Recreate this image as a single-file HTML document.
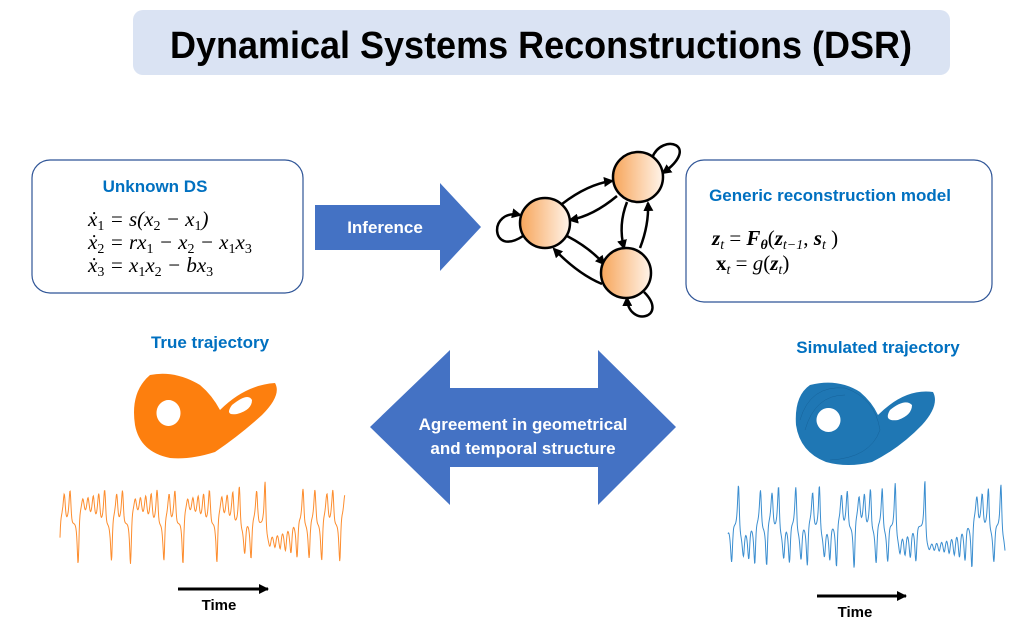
<!DOCTYPE html>
<html><head><meta charset="utf-8"><style>
body{margin:0;width:1024px;height:626px;background:#fff;overflow:hidden;font-family:"Liberation Sans",sans-serif}
svg{position:absolute;left:0;top:0}
</style></head><body>
<svg width="1024" height="626" viewBox="0 0 1024 626">
<defs>
<linearGradient id="og" x1="0" x2="1"><stop offset="0" stop-color="#f7a55a"/><stop offset="1" stop-color="#fff4ea"/></linearGradient>
<marker id="ah" markerWidth="10" markerHeight="10" refX="8" refY="5" orient="auto" markerUnits="userSpaceOnUse"><path d="M0,0 L10,5 L0,10 z" fill="#000"/></marker>
<marker id="ah2" markerWidth="10" markerHeight="10" refX="9" refY="5" orient="auto" markerUnits="userSpaceOnUse"><path d="M0,0 L10,5 L0,10 z" fill="#000"/></marker>
</defs>
<rect x="133" y="10" width="817" height="65" rx="10" fill="#dae3f3"/>
<text x="170" y="58" textLength="742" lengthAdjust="spacingAndGlyphs" font-size="38" font-weight="bold" fill="#000">Dynamical Systems Reconstructions (DSR)</text>

<rect x="32" y="160" width="271" height="133" rx="18" fill="#fff" stroke="#2f5597" stroke-width="1.2"/>
<text x="155" y="192" text-anchor="middle" font-size="17" font-weight="bold" fill="#0070c0">Unknown DS</text>
<g font-family="Liberation Serif,serif" font-size="21" font-style="italic">
<text x="88" y="226">ẋ<tspan font-size="14" dy="4" font-style="normal">1</tspan><tspan dy="-4"> = s(x</tspan><tspan font-size="14" dy="4" font-style="normal">2</tspan><tspan dy="-4"> − x</tspan><tspan font-size="14" dy="4" font-style="normal">1</tspan><tspan dy="-4">)</tspan></text>
<text x="88" y="249">ẋ<tspan font-size="14" dy="4" font-style="normal">2</tspan><tspan dy="-4"> = rx</tspan><tspan font-size="14" dy="4" font-style="normal">1</tspan><tspan dy="-4"> − x</tspan><tspan font-size="14" dy="4" font-style="normal">2</tspan><tspan dy="-4"> − x</tspan><tspan font-size="14" dy="4" font-style="normal">1</tspan><tspan dy="-4">x</tspan><tspan font-size="14" dy="4" font-style="normal">3</tspan></text>
<text x="88" y="272">ẋ<tspan font-size="14" dy="4" font-style="normal">3</tspan><tspan dy="-4"> = x</tspan><tspan font-size="14" dy="4" font-style="normal">1</tspan><tspan dy="-4">x</tspan><tspan font-size="14" dy="4" font-style="normal">2</tspan><tspan dy="-4"> − bx</tspan><tspan font-size="14" dy="4" font-style="normal">3</tspan></text>
</g>

<path d="M315,205 L440,205 L440,183 L481,227 L440,271 L440,250 L315,250 Z" fill="#4472c4"/>
<text x="385" y="233" text-anchor="middle" font-size="17" font-weight="bold" fill="#fff">Inference</text>

<g fill="none" stroke="#000" stroke-width="2.5">
<path d="M562,204 Q588,184 612,181" marker-end="url(#ah)"/>
<path d="M617,196 Q593,216 570,220" marker-end="url(#ah)"/>
<path d="M567,236 Q590,248 604,264" marker-end="url(#ah)"/>
<path d="M602,284 Q578,274 554,249" marker-end="url(#ah)"/>
<path d="M627,202 Q618,225 624,248" marker-end="url(#ah)"/>
<path d="M640,248 Q649,225 648,203" marker-end="url(#ah)"/>
<path d="M652,158 C662,132 702,145 663,173" marker-end="url(#ah)"/>
<path d="M523,236 C490,258 488,208 520,215" marker-end="url(#ah)"/>
<path d="M644,292 C670,318 628,328 627,298" marker-end="url(#ah)"/>
</g>
<g stroke="#000" stroke-width="2.5" fill="url(#og)">
<circle cx="545" cy="223" r="25"/><circle cx="638" cy="177" r="25"/><circle cx="626" cy="273" r="25"/>
</g>

<rect x="686" y="160" width="306" height="142" rx="18" fill="#fff" stroke="#2f5597" stroke-width="1.2"/>
<text x="830" y="201" text-anchor="middle" font-size="17" font-weight="bold" fill="#0070c0">Generic reconstruction model</text>
<g font-family="Liberation Serif,serif" font-size="21">
<text x="712" y="245"><tspan font-weight="bold" font-style="italic">z</tspan><tspan font-size="14" dy="4" font-style="italic">t</tspan><tspan dy="-4"> = </tspan><tspan font-weight="bold" font-style="italic">F</tspan><tspan font-size="14" dy="4" font-weight="bold" font-style="italic">θ</tspan><tspan dy="-4">(</tspan><tspan font-weight="bold" font-style="italic">z</tspan><tspan font-size="14" dy="4" font-style="italic">t−1</tspan><tspan dy="-4">, </tspan><tspan font-weight="bold" font-style="italic">s</tspan><tspan font-size="14" dy="4" font-style="italic">t</tspan><tspan dy="-4"> )</tspan></text>
<text x="716" y="270"><tspan font-weight="bold">x</tspan><tspan font-size="14" dy="4" font-style="italic">t</tspan><tspan dy="-4"> = </tspan><tspan font-style="italic">g</tspan>(<tspan font-weight="bold" font-style="italic">z</tspan><tspan font-size="14" dy="4" font-style="italic">t</tspan><tspan dy="-4">)</tspan></text>
</g>

<path d="M370,427 L450,350 L450,388 L598,388 L598,350 L676,427 L598,505 L598,467 L450,467 L450,505 Z" fill="#4472c4"/>
<text x="523" y="430" text-anchor="middle" font-size="17" font-weight="bold" fill="#fff">Agreement in geometrical</text>
<text x="523" y="454" text-anchor="middle" font-size="17" font-weight="bold" fill="#fff">and temporal structure</text>

<text x="210" y="348" text-anchor="middle" font-size="17" font-weight="bold" fill="#0070c0">True trajectory</text>
<text x="878" y="353" text-anchor="middle" font-size="17" font-weight="bold" fill="#0070c0">Simulated trajectory</text>

<path fill-rule="evenodd" fill="#fd7f0e" d="M150,375 Q175,370 200,385 Q212,395 220,410 Q245,385 275,383 Q282,395 262,415 Q240,435 215,452 Q190,460 170,458 Q140,452 135,425 Q130,392 150,375 Z M168,400 A12,13 0 1,0 169,400 Z M232,405 Q248,392 252,400 Q252,410 237,414 Q224,416 232,405 Z"/>
<path fill-rule="evenodd" fill="#1f77b4" d="M810,385 Q838,378 860,392 Q872,402 878,415 Q905,388 933,392 Q940,405 922,425 Q900,448 872,462 Q848,468 826,462 Q800,452 796,425 Q794,396 810,385 Z M828,408 A12,12 0 1,0 829,408 Z M890,410 Q905,398 912,405 Q912,415 898,420 Q883,422 890,410 Z"/>
<g stroke="#0d4f80" stroke-width="0.5" fill="none" opacity="0.5">
<path d="M800,420 Q810,385 845,388 Q875,398 880,430 Q870,458 830,460"/><path d="M805,430 Q815,395 845,395"/>
</g>

<polyline id="ts1" fill="none" stroke="#fd8d2e" stroke-width="1"/>
<polyline id="ts2" fill="none" stroke="#3b8ed0" stroke-width="1"/>

<line x1="178" y1="589" x2="268" y2="589" stroke="#000" stroke-width="3" marker-end="url(#ah2)"/>
<text x="219" y="610" text-anchor="middle" font-size="15" font-weight="bold">Time</text>
<line x1="817" y1="596" x2="906" y2="596" stroke="#000" stroke-width="3" marker-end="url(#ah2)"/>
<text x="855" y="617" text-anchor="middle" font-size="15" font-weight="bold">Time</text>
</svg>
<script>
function lor(x0,n,dt){var x=x0,y=1,z=20,o=[];for(var i=0;i<n;i++){for(var k=0;k<10;k++){var dx=10*(y-x),dy=x*(28-z)-y,dz=x*y-8/3*z;x+=dx*dt/10;y+=dy*dt/10;z+=dz*dt/10;}o.push(x);}return o;}
function draw(id,x0,x1,y0,y1,seed){var a=lor(seed,800,0.05).slice(100);var p=[];for(var i=0;i<a.length;i++){var X=x0+(x1-x0)*i/(a.length-1);var Y=(y0+y1)/2-a[i]/20*(y1-y0)/2;p.push(X.toFixed(1)+","+Y.toFixed(1));}document.getElementById(id).setAttribute("points",p.join(" "));}
draw("ts1",60,345,478,568,1.0);
draw("ts2",728,1005,478,575,1.3);
</script>
</body></html>
